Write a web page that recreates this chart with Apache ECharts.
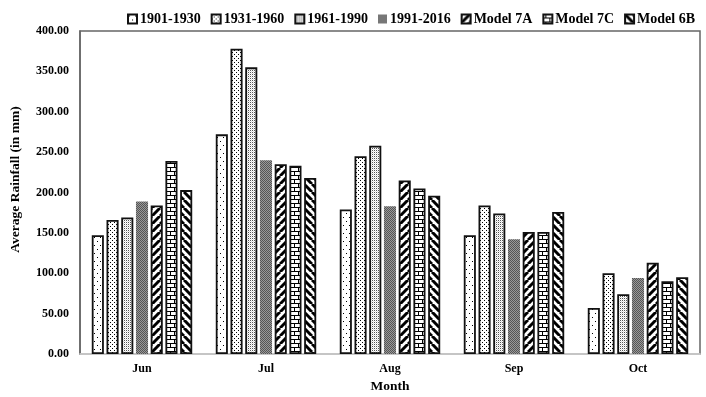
<!DOCTYPE html>
<html>
<head>
<meta charset="utf-8">
<script src="https://cdn.jsdelivr.net/npm/echarts@6/dist/echarts.min.js"></script>
<style>
  html, body { margin: 0; padding: 0; background: #fff; }
  #chart { width: 706px; height: 397px; }
</style>
</head>
<body>
<div id="chart"></div>
<script>
  // data
  const months = ['Jun', 'Jul', 'Aug', 'Sep', 'Oct']
  const p1901 = [147, 272, 179, 147, 57]
  const p1931 = [166, 378, 245, 184, 100]
  const p1961 = [169, 355, 258, 174, 74]
  const p1991 = [189, 240, 183, 142, 94]
  const m7A = [184, 235, 215, 151, 113]
  const m7C = [239, 233, 205, 151, 90]
  const m6B = [203, 218, 196, 176, 95]
  const yTicks = [0, 50, 100, 150, 200, 250, 300, 350, 400]

  const font = '"Liberation Serif", "Times New Roman", serif'

  // small canvas tiles used as fill patterns
  function tile(w, h, draw) {
    const c = document.createElement('canvas')
    c.width = w
    c.height = h
    const ctx = c.getContext('2d')
    ctx.fillStyle = '#fff'
    ctx.fillRect(0, 0, w, h)
    ctx.fillStyle = '#000'
    draw(ctx)
    return { image: c, repeat: 'repeat' }
  }

  const patterns = [
    // sparse dots
    tile(6, 8, ctx => { ctx.fillRect(1, 1, 1, 1); ctx.fillRect(4, 5, 1, 1) }),
    // denser dots
    tile(4, 4, ctx => { ctx.fillRect(0, 0, 1, 1); ctx.fillRect(2, 2, 1, 1) }),
    // fine checker
    tile(2, 2, ctx => { ctx.fillStyle = '#555'; ctx.fillRect(0, 0, 1, 1); ctx.fillStyle = '#ddd'; ctx.fillRect(1, 1, 1, 1) }),
    // dark grey mesh
    tile(2, 2, ctx => { ctx.fillStyle = '#555'; ctx.fillRect(0, 0, 2, 2); ctx.fillStyle = '#999'; ctx.fillRect(1, 0, 1, 1); ctx.fillRect(0, 1, 1, 1) }),
    // wide "/" stripes
    tile(8, 8, ctx => {
      ctx.strokeStyle = '#000'; ctx.lineWidth = 3
      for (let k = -8; k <= 16; k += 8) { ctx.beginPath(); ctx.moveTo(k, 8); ctx.lineTo(k + 8, 0); ctx.stroke() }
    }),
    // bricks
    tile(8, 8, ctx => {
      ctx.fillRect(0, 3, 8, 1); ctx.fillRect(0, 7, 8, 1)
      ctx.fillRect(2, 0, 1, 3); ctx.fillRect(6, 4, 1, 3)
    }),
    // wide "\" stripes
    tile(8, 8, ctx => {
      ctx.strokeStyle = '#000'; ctx.lineWidth = 3
      for (let k = -8; k <= 16; k += 8) { ctx.beginPath(); ctx.moveTo(k, 0); ctx.lineTo(k + 8, 8); ctx.stroke() }
    })
  ]

  const names = ['1901-1930', '1931-1960', '1961-1990', '1991-2016', 'Model 7A', 'Model 7C', 'Model 6B']
  const values = [p1901, p1931, p1961, p1991, m7A, m7C, m6B]

  const series = names.map((name, i) => ({
    name: name,
    type: 'bar',
    data: values[i],
    barGap: '22%',
    barCategoryGap: '19%',
    itemStyle: {
      color: patterns[i],
      borderColor: i === 3 ? 'rgba(0,0,0,0)' : '#111',
      borderWidth: i === 3 ? 0 : 1.8
    }
  }))

  const chart = echarts.init(document.getElementById('chart'), null, { renderer: 'canvas' })
  chart.setOption({
    animation: false,
    textStyle: { fontFamily: font },
    legend: {
      top: 7,
      left: 122,
      width: 620,
      itemWidth: 9,
      itemHeight: 9,
      itemGap: 10,
      icon: 'rect',
      textStyle: { fontFamily: font, fontWeight: 'bold', fontSize: 14, color: '#000', padding: [0, 0, 0, -2] },
      data: names
    },
    grid: {
      left: 80,
      right: 6,
      top: 31,
      bottom: 43,
      outerBoundsMode: 'none',
      show: true,
      borderColor: '#666',
      borderWidth: 1.5
    },
    xAxis: {
      type: 'category',
      data: months,
      name: 'Month',
      nameLocation: 'middle',
      nameGap: 25,
      nameTextStyle: { fontFamily: font, fontWeight: 'bold', fontSize: 13.5, color: '#000' },
      axisLine: { lineStyle: { color: '#d9d9d9', width: 1.5 } },
      axisTick: { show: false },
      axisLabel: { fontFamily: font, fontWeight: 'bold', fontSize: 12, color: '#000', margin: 9 }
    },
    yAxis: {
      type: 'value',
      min: yTicks[0],
      max: yTicks[yTicks.length - 1],
      interval: 50,
      name: 'Average Rainfall (in mm)',
      nameLocation: 'middle',
      nameGap: 57,
      nameTextStyle: { fontFamily: font, fontWeight: 'bold', fontSize: 13.5, color: '#000', padding: [0, 0, 0, 26] },
      axisLine: { show: true, lineStyle: { color: '#666', width: 1.5 } },
      axisTick: { show: false },
      splitLine: { show: false },
      axisLabel: {
        fontFamily: font, fontWeight: 'bold', fontSize: 12, color: '#000', margin: 11,
        formatter: v => v.toFixed(2)
      }
    },
    series: series
  })
</script>
</body>
</html>
